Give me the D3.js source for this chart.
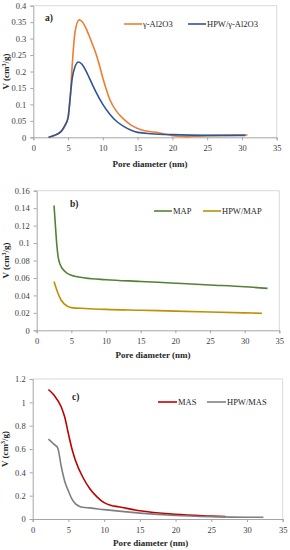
<!DOCTYPE html>
<html><head><meta charset="utf-8">
<script src="https://cdn.jsdelivr.net/npm/d3@7"></script>
<style>body{margin:0;background:#fff}svg{display:block}</style>
</head><body><svg id="c" width="290" height="550"></svg>
<script>
// Panel a
const aX_Al2O3 = [2.2,3,4,4.5,5,5.3,5.6,6,6.6,7,7.5,8,8.5,9,9.5,10,10.5,11,12,13,14,15,16,17,18,19,20,21,22,23,25,28,30.8];
const aY_Al2O3 = [0,0.005,0.018,0.032,0.06,0.12,0.22,0.32,0.357,0.352,0.335,0.31,0.283,0.255,0.22,0.18,0.145,0.115,0.078,0.055,0.038,0.027,0.02,0.017,0.014,0.009,0.005,0.003,0.002,0.003,0.005,0.006,0.007];
const aX_HPW = [2.2,3,4,4.5,5,5.3,5.6,6,6.5,7,7.5,8,8.5,9,10,11,12,13,14,15,17,20,25,30.5];
const aY_HPW = [0,0.006,0.018,0.035,0.06,0.12,0.18,0.215,0.229,0.222,0.205,0.183,0.16,0.138,0.1,0.07,0.048,0.033,0.022,0.015,0.011,0.008,0.006,0.006];
// Panel b
const bX_MAP = [2.5,2.7,2.9,3.1,3.4,4,5,7,10,15,20,25,30,33.3];
const bY_MAP = [0.143,0.12,0.098,0.084,0.075,0.068,0.063,0.060,0.058,0.056,0.054,0.052,0.050,0.048];
const bX_HPW = [2.5,3,3.5,4,5,7,10,15,20,25,30,32.5];
const bY_HPW = [0.056,0.044,0.035,0.030,0.026,0.025,0.024,0.023,0.022,0.021,0.020,0.0195];
// Panel c
const cX_MAS = [2.2,3,4,4.5,5,5.5,6,7,8,9,10,11,12,15,20,25,27];
const cY_MAS = [1.11,1.06,0.96,0.87,0.73,0.6,0.5,0.36,0.26,0.19,0.14,0.115,0.105,0.07,0.04,0.025,0.02];
const cX_HPW = [2.2,3,3.5,4,4.5,5,5.5,6,6.5,7,8,10,15,20,25,30,32.3];
const cY_HPW = [0.685,0.64,0.61,0.45,0.32,0.24,0.17,0.13,0.11,0.1,0.095,0.08,0.05,0.03,0.02,0.015,0.015];

const xTicks = [0,5,10,15,20,25,30,35];
const aYTicks = [0,0.05,0.1,0.15,0.2,0.25,0.3,0.35,0.4];
const bYTicks = [0,0.02,0.04,0.06,0.08,0.1,0.12,0.14,0.16];
const cYTicks = [0,0.2,0.4,0.6,0.8,1,1.2];

const seriesNamesA = ["γ-Al2O3","HPW/γ-Al2O3"];
const seriesNamesB = ["MAP","HPW/MAP"];
const seriesNamesC = ["MAS","HPW/MAS"];

const svg = d3.select("#c");
const serif = "Liberation Serif, Times New Roman, serif";

function panel(cfg){
  const x = d3.scaleLinear().domain([0,35]).range([cfg.l,cfg.r]);
  const y = d3.scaleLinear().domain([0,cfg.ymax]).range([cfg.b,cfg.t]);
  const g = svg.append("g");
  g.append("path").attr("d",`M${cfg.l},${cfg.t}H${cfg.r}V${cfg.b}`)
    .attr("fill","none").attr("stroke","#d9d9d9").attr("stroke-width",1);
  const fmt = d => String(+d.toFixed(3));
  const ya = g.append("g").attr("transform",`translate(${cfg.l},0)`)
    .call(d3.axisLeft(y).tickValues(cfg.yt).tickFormat(fmt).tickSize(3).tickPadding(4));
  const xa = g.append("g").attr("transform",`translate(0,${cfg.b})`)
    .call(d3.axisBottom(x).tickValues(xTicks).tickFormat(d=>d).tickSize(3).tickPadding(5));
  [ya,xa].forEach(a=>{
    a.attr("font-family",null);
    a.select(".domain").attr("stroke","#a6a6a6");
    a.selectAll(".tick line").attr("stroke","#a6a6a6");
    a.selectAll("text").style("font-family",serif).style("font-size","8.5px").attr("fill","#404040");
  });
  const line = d3.line().x(d=>x(d[0])).y(d=>y(d[1])).curve(d3.curveMonotoneX);
  cfg.series.forEach(s=>{
    g.append("path").datum(d3.zip(s.xs,s.ys)).attr("d",line)
      .attr("fill","none").attr("stroke",s.color).attr("stroke-width",1.6);
  });
  cfg.series.forEach((s,i)=>{
    const lx = cfg.leg[i];
    g.append("line").attr("x1",lx).attr("x2",lx+cfg.legLen).attr("y1",cfg.legY).attr("y2",cfg.legY)
      .attr("stroke",s.color).attr("stroke-width",1.6);
    g.append("text").attr("x",lx+cfg.legLen+1).attr("y",cfg.legY+3).text(s.name)
      .style("font-family",serif).style("font-size","8.5px").attr("fill","#262626");
  });
  g.append("text").attr("x",cfg.lab[0]).attr("y",cfg.lab[1]).text(cfg.label)
    .style("font-family",serif).style("font-weight","bold").style("font-size","9.5px").attr("fill","#262626");
  g.append("text").attr("x",(cfg.l+cfg.r)/2 + cfg.xtDx).attr("y",cfg.xtY).attr("text-anchor","middle")
    .text("Pore diameter (nm)").style("font-family",serif).style("font-weight","bold").style("font-size","9px").attr("fill","#262626");
  const yt = g.append("text").attr("transform",`translate(${cfg.ytX},${(cfg.t+cfg.b)/2})rotate(-90)`)
    .attr("text-anchor","middle").style("font-family",serif).style("font-weight","bold").style("font-size","9px").attr("fill","#262626");
  yt.append("tspan").text("V (cm");
  yt.append("tspan").text("3").attr("dy",-3).style("font-size","6px");
  yt.append("tspan").text("/g)").attr("dy",3);
}

panel({l:33.3,r:276.7,t:5.7,b:137.3,ymax:0.4,yt:aYTicks,label:"a)",lab:[45,21],
  xtY:167,xtDx:-5,ytX:9,legY:24,leg:[124,188],legLen:18,
  series:[{xs:aX_Al2O3,ys:aY_Al2O3,color:"#ED7D31",name:seriesNamesA[0]},
          {xs:aX_HPW,ys:aY_HPW,color:"#2F5597",name:seriesNamesA[1]}]});
panel({l:36.7,r:279.3,t:190.7,b:330.3,ymax:0.16,yt:bYTicks,label:"b)",lab:[70,207],
  xtY:358,xtDx:-5,ytX:9,legY:211,leg:[154,203],legLen:18,
  series:[{xs:bX_MAP,ys:bY_MAP,color:"#548235",name:seriesNamesB[0]},
          {xs:bX_HPW,ys:bY_HPW,color:"#BF9000",name:seriesNamesB[1]}]});
panel({l:32.7,r:282.7,t:379,b:519,ymax:1.2,yt:cYTicks,label:"c)",lab:[72,400],
  xtY:546,xtDx:-7,ytX:8,legY:402,leg:[158,207],legLen:19,
  series:[{xs:cX_MAS,ys:cY_MAS,color:"#C00000",name:seriesNamesC[0]},
          {xs:cX_HPW,ys:cY_HPW,color:"#7F7F7F",name:seriesNamesC[1]}]});
</script></body></html>
